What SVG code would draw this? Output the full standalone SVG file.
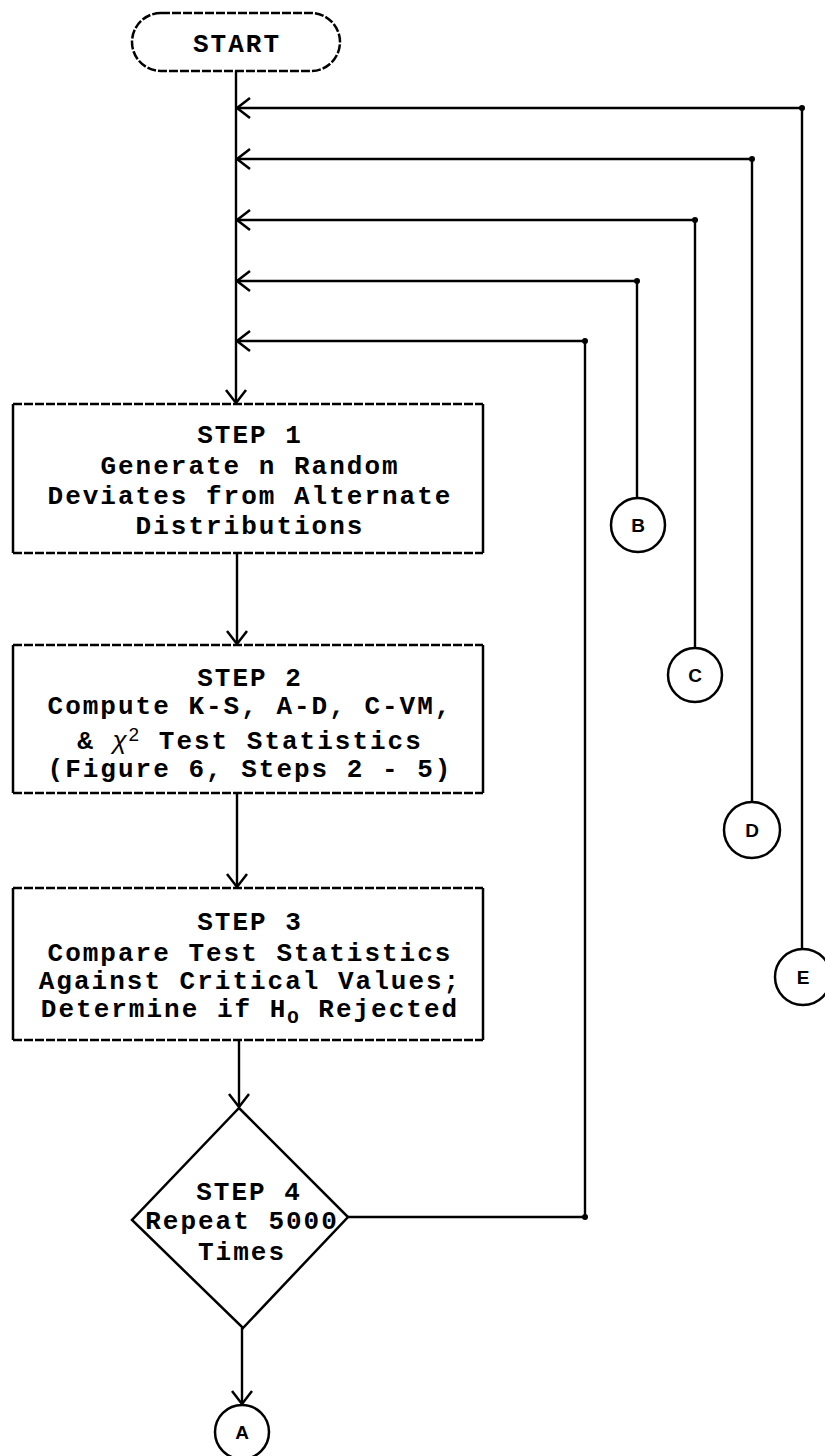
<svg xmlns="http://www.w3.org/2000/svg" width="825" height="1456" viewBox="0 0 825 1456">
<style>
.t{font-family:"Liberation Mono","DejaVu Sans Mono",monospace;font-weight:bold;font-size:26px;letter-spacing:2px;fill:#000;text-anchor:middle}
.c{font-family:"Liberation Sans","DejaVu Sans",sans-serif;font-weight:bold;font-size:19px;fill:#000;text-anchor:middle}
.edge{fill:none;stroke:#000;stroke-width:2.5}
.dash{fill:none;stroke:#000;stroke-width:2.5;stroke-dasharray:9 2}
.ln{fill:none;stroke:#000;stroke-width:2.4}
.dot{fill:#000}
</style>
<defs>
<marker id="arr" markerUnits="userSpaceOnUse" markerWidth="18" markerHeight="24" refX="15" refY="11" orient="auto">
<path d="M2,1 L15,11 L2,21" fill="none" stroke="#000" stroke-width="2.5"/>
</marker>
</defs>
<g id="connectors">
<path class="ln" d="M236,71 V403" marker-end="url(#arr)"/>
<path class="ln" d="M237,553 V644" marker-end="url(#arr)"/>
<path class="ln" d="M237,793 V887" marker-end="url(#arr)"/>
<path class="ln" d="M239,1040 V1107" marker-end="url(#arr)"/>
<path class="ln" d="M242,1328 V1404" marker-end="url(#arr)"/>
<path class="ln" d="M802,949 V108 H237" marker-end="url(#arr)"/>
<path class="ln" d="M752,802 V159 H237" marker-end="url(#arr)"/>
<path class="ln" d="M695,648 V220 H237" marker-end="url(#arr)"/>
<path class="ln" d="M637,498 V281 H237" marker-end="url(#arr)"/>
<path class="ln" d="M348,1217 H585 V341 H237" marker-end="url(#arr)"/>
<circle class="dot" cx="802" cy="108" r="3"/>
<circle class="dot" cx="752" cy="159" r="3"/>
<circle class="dot" cx="695" cy="220" r="3"/>
<circle class="dot" cx="637" cy="281" r="3"/>
<circle class="dot" cx="585" cy="341" r="3"/>
<circle class="dot" cx="585" cy="1217" r="3"/>
</g>
<g id="start">
<rect class="dash" x="132" y="13" width="208" height="58" rx="29" ry="29"/>
<text class="t" x="237" y="52">START</text>
</g>
<g id="step1">
<path class="dash" d="M13,404 H483 M13,553 H483"/>
<path class="edge" d="M13,404 V553 M483,404 V553"/>
<text class="t" x="250" y="443">STEP 1</text>
<text class="t" x="250" y="474">Generate n Random</text>
<text class="t" x="250" y="504">Deviates from Alternate</text>
<text class="t" x="250" y="534">Distributions</text>
</g>
<g id="step2">
<path class="dash" d="M13,645 H483 M13,793 H483"/>
<path class="edge" d="M13,645 V793 M483,645 V793"/>
<text class="t" x="250" y="686">STEP 2</text>
<text class="t" x="250" y="714">Compute K-S, A-D, C-VM,</text>
<text class="t" x="250" y="749">&amp; <tspan style="font-family:'Liberation Sans',sans-serif;font-style:italic;font-weight:normal;font-size:26px">χ</tspan><tspan dy="-8" style="font-family:'Liberation Sans',sans-serif;font-weight:normal;font-size:19px">2</tspan><tspan dy="8"> Test Statistics</tspan></text>
<text class="t" x="250" y="777">(Figure 6, Steps 2 - 5)</text>
</g>
<g id="step3">
<path class="dash" d="M13,888 H483 M13,1040 H483"/>
<path class="edge" d="M13,888 V1040 M483,888 V1040"/>
<text class="t" x="250" y="930">STEP 3</text>
<text class="t" x="250" y="961">Compare Test Statistics</text>
<text class="t" x="250" y="989">Against Critical Values;</text>
<text class="t" x="250" y="1017">Determine if H<tspan dy="6" style="font-size:19px">O</tspan><tspan dy="-6"> Rejected</tspan></text>
</g>
<g id="step4">
<path class="edge" d="M239,1108 L348,1217 L243,1328 L132,1220 Z"/>
<text class="t" x="249" y="1200">STEP 4</text>
<text class="t" x="242" y="1229">Repeat 5000</text>
<text class="t" x="242" y="1260">Times</text>
</g>
<g id="nodeA">
<circle class="edge" cx="242" cy="1432" r="27"/>
<text class="c" x="242" y="1439">A</text>
</g>
<g id="nodeB">
<circle class="edge" cx="638" cy="525" r="27"/>
<text class="c" x="638" y="532">B</text>
</g>
<g id="nodeC">
<circle class="edge" cx="695" cy="675" r="27"/>
<text class="c" x="695" y="682">C</text>
</g>
<g id="nodeD">
<circle class="edge" cx="752" cy="830" r="28"/>
<text class="c" x="752" y="837">D</text>
</g>
<g id="nodeE">
<circle class="edge" cx="803" cy="977" r="28"/>
<text class="c" x="803" y="984">E</text>
</g>
</svg>
